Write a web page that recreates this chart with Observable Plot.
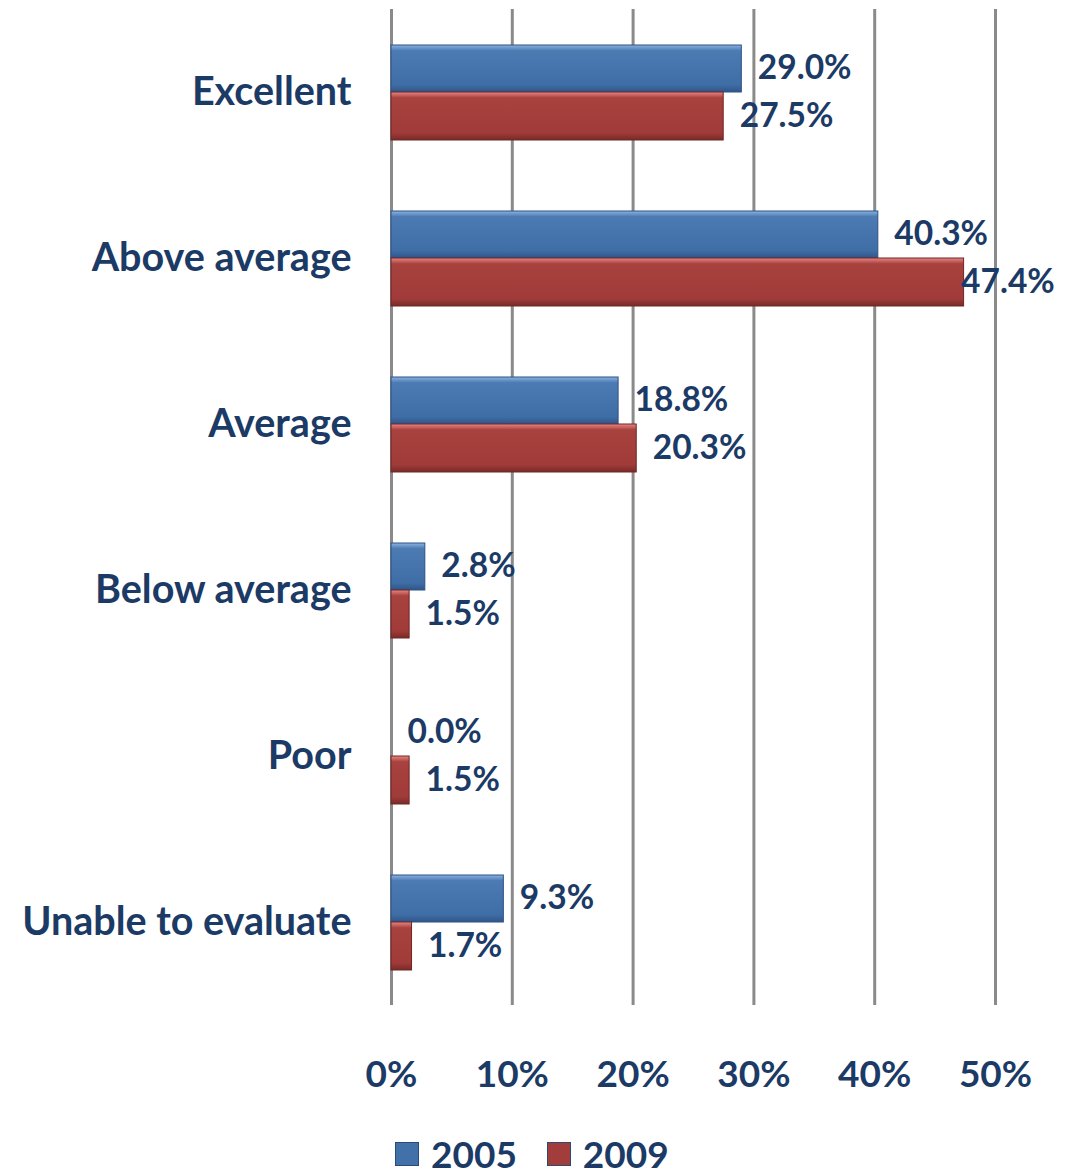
<!DOCTYPE html>
<html>
<head>
<meta charset="utf-8">
<script src="https://cdn.jsdelivr.net/npm/d3@7"></script>
<script src="https://cdn.jsdelivr.net/npm/@observablehq/plot@0.6"></script>
<style>
  body { margin: 0; background: #fff; font-family: Lato, "Open Sans", sans-serif; }
  #chart svg { display: block; }
  #legend { display: flex; gap: 30px; margin-left: 395px; margin-top: 19px; align-items: center; color: #1B3A66; font-weight: 700; font-size: 37px; line-height: 1.1; }
  .item { display: flex; align-items: center; gap: 12px; }
  .sw { width: 24px; height: 24px; border: 1px solid #2a4a78; box-sizing: border-box; }
</style>
</head>
<body>
<div id="chart"></div>
<div id="legend"></div>
<script>
const categories = ["Excellent", "Above average", "Average", "Below average", "Poor", "Unable to evaluate"];
const values2005 = [29.0, 40.3, 18.8, 2.8, 0.0, 9.3];
const values2009 = [27.5, 47.4, 20.3, 1.5, 1.5, 1.7];
const xTicks = [0, 10, 20, 30, 40, 50];
const years = ["2005", "2009"];
const colors = ["#4270A8", "#A23D3B"];

const d05 = categories.map((c, i) => ({cat: c, v: values2005[i]}));
const d09 = categories.map((c, i) => ({cat: c, v: values2009[i]}));
const fmt = v => v.toFixed(1) + "%";

const textColor = "#1B3A66";
const labelStyle = {x: "v", y: "cat", text: d => fmt(d.v), textAnchor: "start", fill: textColor, fontSize: 33.5, fontWeight: 700};

const plot = Plot.plot({
  width: 1066,
  height: 1115,
  marginLeft: 391,
  marginRight: 71,
  marginTop: 9,
  marginBottom: 110,
  style: {fontFamily: "Lato, 'Open Sans', sans-serif", color: textColor, background: "#fff"},
  x: {domain: [0, 50], ticks: xTicks, label: null},
  y: {domain: categories, padding: 0, label: null},
  marks: [
    Plot.ruleX(xTicks, {stroke: "#8a8a8a", strokeWidth: 3}),
    Plot.barX(d05, {x: "v", y: "cat", fill: "url(#gblue)", stroke: "#2d5284", strokeWidth: 1, insetTop: 36, insetBottom: 83}),
    Plot.barX(d09, {x: "v", y: "cat", fill: "url(#gred)", stroke: "#6e2624", strokeWidth: 1, insetTop: 83, insetBottom: 35}),
    Plot.text(d05, {...labelStyle, dx: 16, dy: -24}),
    Plot.text(d09, {...labelStyle, filter: d => d.v < 45, dx: 16, dy: 24}),
    Plot.text(d09, {...labelStyle, filter: d => d.v >= 45, dx: -3, dy: 24}),
    Plot.axisX({ticks: xTicks, tickFormat: d => d + "%", tickSize: 0, tickPadding: 55, fontSize: 37, fontWeight: 700, fill: textColor, label: null}),
    Plot.axisY({tickSize: 0, tickPadding: 40, fontSize: 39.5, fontWeight: 700, fill: textColor, label: null})
  ]
});

const ns = "http://www.w3.org/2000/svg";
const defs = document.createElementNS(ns, "defs");
defs.innerHTML = `
<linearGradient id="gblue" x1="0" y1="0" x2="0" y2="1">
  <stop offset="0" stop-color="#8db2e0"/>
  <stop offset="0.12" stop-color="#4c7bb4"/>
  <stop offset="0.85" stop-color="#3f6da6"/>
  <stop offset="1" stop-color="#2f5589"/>
</linearGradient>
<linearGradient id="gred" x1="0" y1="0" x2="0" y2="1">
  <stop offset="0" stop-color="#e88784"/>
  <stop offset="0.12" stop-color="#a8423f"/>
  <stop offset="0.85" stop-color="#a03b39"/>
  <stop offset="1" stop-color="#782b29"/>
</linearGradient>`;
plot.insertBefore(defs, plot.firstChild);
document.getElementById("chart").appendChild(plot);

const legend = document.getElementById("legend");
years.forEach((y, i) => {
  const it = document.createElement("div");
  it.className = "item";
  const sw = document.createElement("div");
  sw.className = "sw";
  sw.style.background = colors[i];
  const t = document.createElement("span");
  t.textContent = y;
  it.appendChild(sw); it.appendChild(t);
  legend.appendChild(it);
});
</script>
</body>
</html>
